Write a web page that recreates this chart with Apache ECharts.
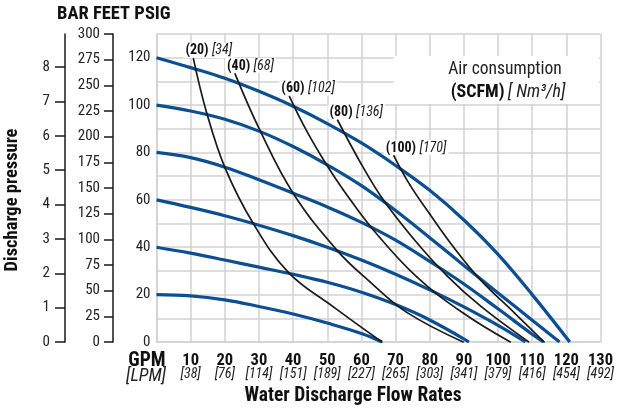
<!DOCTYPE html>
<html>
<head>
<meta charset="utf-8">
<script src="https://cdn.jsdelivr.net/npm/echarts@6/dist/echarts.min.js"></script>
<style>
html,body{margin:0;padding:0;background:#fff;}
#c{width:630px;height:412px;}
</style>
</head>
<body>
<div id="c"></div>
<script>
// ---- Data ----
const gpmTicks = [10, 20, 30, 40, 50, 60, 70, 80, 90, 100, 110, 120, 130];
const lpmTicks = ['38', '76', '114', '151', '189', '227', '265', '303', '341', '379', '416', '454', '492'];
const barTicks = [0, 1, 2, 3, 4, 5, 6, 7, 8];

// Discharge pressure curves (air inlet pressure, psig) : [GPM, PSIG]
const p120 = [[0,120],[10,115.8],[20,111.3],[30,105.8],[40,99.5],[50,92.2],[60,84],[70,74.5],[80,64],[90,51.5],[100,37],[110,20],[121,0]];
const p100 = [[0,100],[10,97.5],[20,94],[30,89],[40,82.5],[50,74.8],[60,66],[70,55.5],[80,44],[90,32.3],[100,20.7],[110,9.2],[118,0]];
const p80  = [[0,80],[10,77.8],[20,73.8],[30,68.5],[40,62.8],[50,57],[60,50.5],[70,43],[80,34],[90,24.5],[100,14],[110,3.3],[113.3,0]];
const p60  = [[0,60],[10,56.8],[20,53.3],[30,49.3],[40,44.9],[50,40],[60,34.6],[70,28.6],[80,22],[90,14.8],[100,7],[108,0]];
const p40  = [[0,40],[10,37.5],[20,34.6],[30,31.6],[40,28.6],[50,25.2],[60,21],[70,15.8],[80,9.3],[91.5,0]];
const p20  = [[0,20],[10,19.5],[20,17.8],[30,15],[40,11.8],[50,8],[60,3.6],[66,0]];

// Air consumption curves : [GPM, PSIG]
const a20  = [[10.8,119.6],[14.7,96.7],[20.1,73.4],[28.3,50.1],[38.6,29.4],[51.8,14.8],[66,0]];
const a40  = [[23,113.2],[30.3,89.3],[40,62.8],[52.8,38.8],[62.5,25.4],[73.3,12.5],[89.8,0]];
const a60  = [[38.9,103.7],[44,89],[49.8,74.8],[54.7,64.2],[63.5,47.3],[76.2,27.5],[90,12],[103.6,0]];
const a80  = [[53,93.7],[60,75],[66.4,60],[75,44],[85,28],[95,15],[109,0]];
const a100 = [[69.5,78.6],[74.2,66.3],[80,54],[87,40],[95,26],[105,12],[113.5,0]];
const airScfm = ['20', '40', '60', '80', '100'];
const airNm3  = ['34', '68', '102', '136', '170'];

// ---- Chart ----
const FONT = '"Roboto Condensed", "Liberation Sans Narrow", "Arial Narrow", "Liberation Sans", sans-serif';
const BLUE = '#0b4f92';
const BLACK = '#1a1a1a';
const GRID = '#d2d2d2';

const pressureSets = [p120, p100, p80, p60, p40, p20];
const airSets = [a20, a40, a60, a80, a100];

const series = [];
pressureSets.forEach(function (d) {
  series.push({
    type: 'line', data: d, smooth: 0.4, symbol: 'none',
    lineStyle: { color: BLUE, width: 3.2 }, z: 3, silent: true
  });
});
airSets.forEach(function (d, k) {
  const data = d.map(function (p, i) {
    if (i !== 0) return p;
    return {
      value: p,
      label: {
        show: true, position: 'top', align: 'left', distance: 0, offset: [-10, 0],
        formatter: '{b|(' + airScfm[k] + ')} {i|[' + airNm3[k] + ']}',
        rich: {
          b: { fontFamily: FONT, fontWeight: 'bold', fontSize: 14, color: '#111' },
          i: { fontFamily: FONT, fontStyle: 'italic', fontSize: 14, color: '#222' }
        },
        backgroundColor: '#fff', padding: [1, 2, 0, 2]
      }
    };
  });
  series.push({
    type: 'line', data: data, smooth: 0.4, symbol: 'circle', symbolSize: 1.5, showSymbol: true,
    itemStyle: { color: BLACK, borderWidth: 0 },
    lineStyle: { color: BLACK, width: 1.7 }, z: 4, silent: true
  });
});

const option = {
  animation: false,
  backgroundColor: '#fff',
  grid: { left: 156.5, right: 29.5, top: 34, bottom: 70, containLabel: false },
  xAxis: {
    type: 'value', min: 0, max: 130, interval: 10,
    axisLine: { show: true, lineStyle: { color: GRID, width: 1.5 } },
    axisTick: { show: false },
    splitLine: { show: true, lineStyle: { color: GRID, width: 1.5 } },
    axisLabel: {
      margin: 11, hideOverlap: false,
      formatter: function (v) {
        const i = gpmTicks.indexOf(v);
        if (i < 0) return '';
        return '{n|' + v + '}\n{l|[' + lpmTicks[i] + ']}';
      },
      rich: {
        n: { fontFamily: FONT, fontWeight: 'bold', fontSize: 16.5, lineHeight: 15, color: '#111' },
        l: { fontFamily: FONT, fontStyle: 'italic', fontSize: 14, lineHeight: 13, color: '#222' }
      }
    }
  },
  yAxis: [
    {
      type: 'value', min: 0, max: 130, interval: 10, position: 'left',
      axisLine: { show: true, lineStyle: { color: GRID, width: 1.5 } },
      axisTick: { show: false },
      splitLine: { show: true, lineStyle: { color: GRID, width: 1.5 } },
      axisLabel: {
        margin: 6, fontFamily: FONT, fontSize: 15, color: '#222',
        formatter: function (v) { return v % 20 === 0 ? String(v) : ''; }
      }
    },
    {
      type: 'value', min: 0, max: 300, interval: 25, position: 'left', offset: 43.5,
      axisLine: { show: true, lineStyle: { color: BLACK, width: 1.5 } },
      axisTick: { show: true, length: 9, lineStyle: { color: BLACK, width: 1.5 } },
      splitLine: { show: false },
      axisLabel: { margin: 13, fontFamily: FONT, fontSize: 15, color: '#222' }
    },
    {
      type: 'value', min: 0, max: 8.963, position: 'left', offset: 91.5,
      axisLine: { show: true, lineStyle: { color: BLACK, width: 1.5 } },
      axisTick: { show: true, length: 10, customValues: barTicks, lineStyle: { color: BLACK, width: 1.5 } },
      splitLine: { show: false },
      axisLabel: { margin: 15, customValues: barTicks, fontFamily: FONT, fontSize: 15, color: '#222' }
    }
  ],
  graphic: [
    { type: 'text', left: 57, top: 5, style: { text: 'BAR FEET PSIG', font: 'bold 18.5px ' + FONT, fill: '#111' } },
    { type: 'text', x: 12, y: 200, rotation: Math.PI / 2,
      style: { text: 'Discharge pressure', font: 'bold 18.5px ' + FONT, fill: '#111', textAlign: 'center', textVerticalAlign: 'middle' } },
    { type: 'text', x: 147, y: 361,
      style: { text: 'GPM', font: 'bold 19.5px ' + FONT, fill: '#111', textAlign: 'center', textVerticalAlign: 'middle' } },
    { type: 'text', x: 146, y: 376,
      style: { text: '[LPM]', font: 'italic 18px ' + FONT, fill: '#222', textAlign: 'center', textVerticalAlign: 'middle' } },
    { type: 'text', x: 353, y: 396,
      style: { text: 'Water Discharge Flow Rates', font: 'bold 19.5px ' + FONT, fill: '#111', textAlign: 'center', textVerticalAlign: 'middle' } },
    { type: 'rect', shape: { x: 394, y: 56, width: 205, height: 48 }, style: { fill: '#fff' }, z: 2 },
    { type: 'text', x: 505, y: 70, z: 5,
      style: { text: 'Air consumption', font: '17.5px ' + FONT, fill: '#222', textAlign: 'center', textVerticalAlign: 'middle' } },
    { type: 'text', x: 508, y: 92, z: 5,
      style: {
        text: '{b|(SCFM)} {i|[ Nm³/h]}', textAlign: 'center', textVerticalAlign: 'middle',
        rich: {
          b: { fontFamily: FONT, fontWeight: 'bold', fontSize: 18, fill: '#111' },
          i: { fontFamily: FONT, fontStyle: 'italic', fontSize: 18, fill: '#222' }
        }
      } }
  ],
  series: series
};

const chart = echarts.init(document.getElementById('c'), null, { renderer: 'canvas' });
chart.setOption(option);
</script>
</body>
</html>
